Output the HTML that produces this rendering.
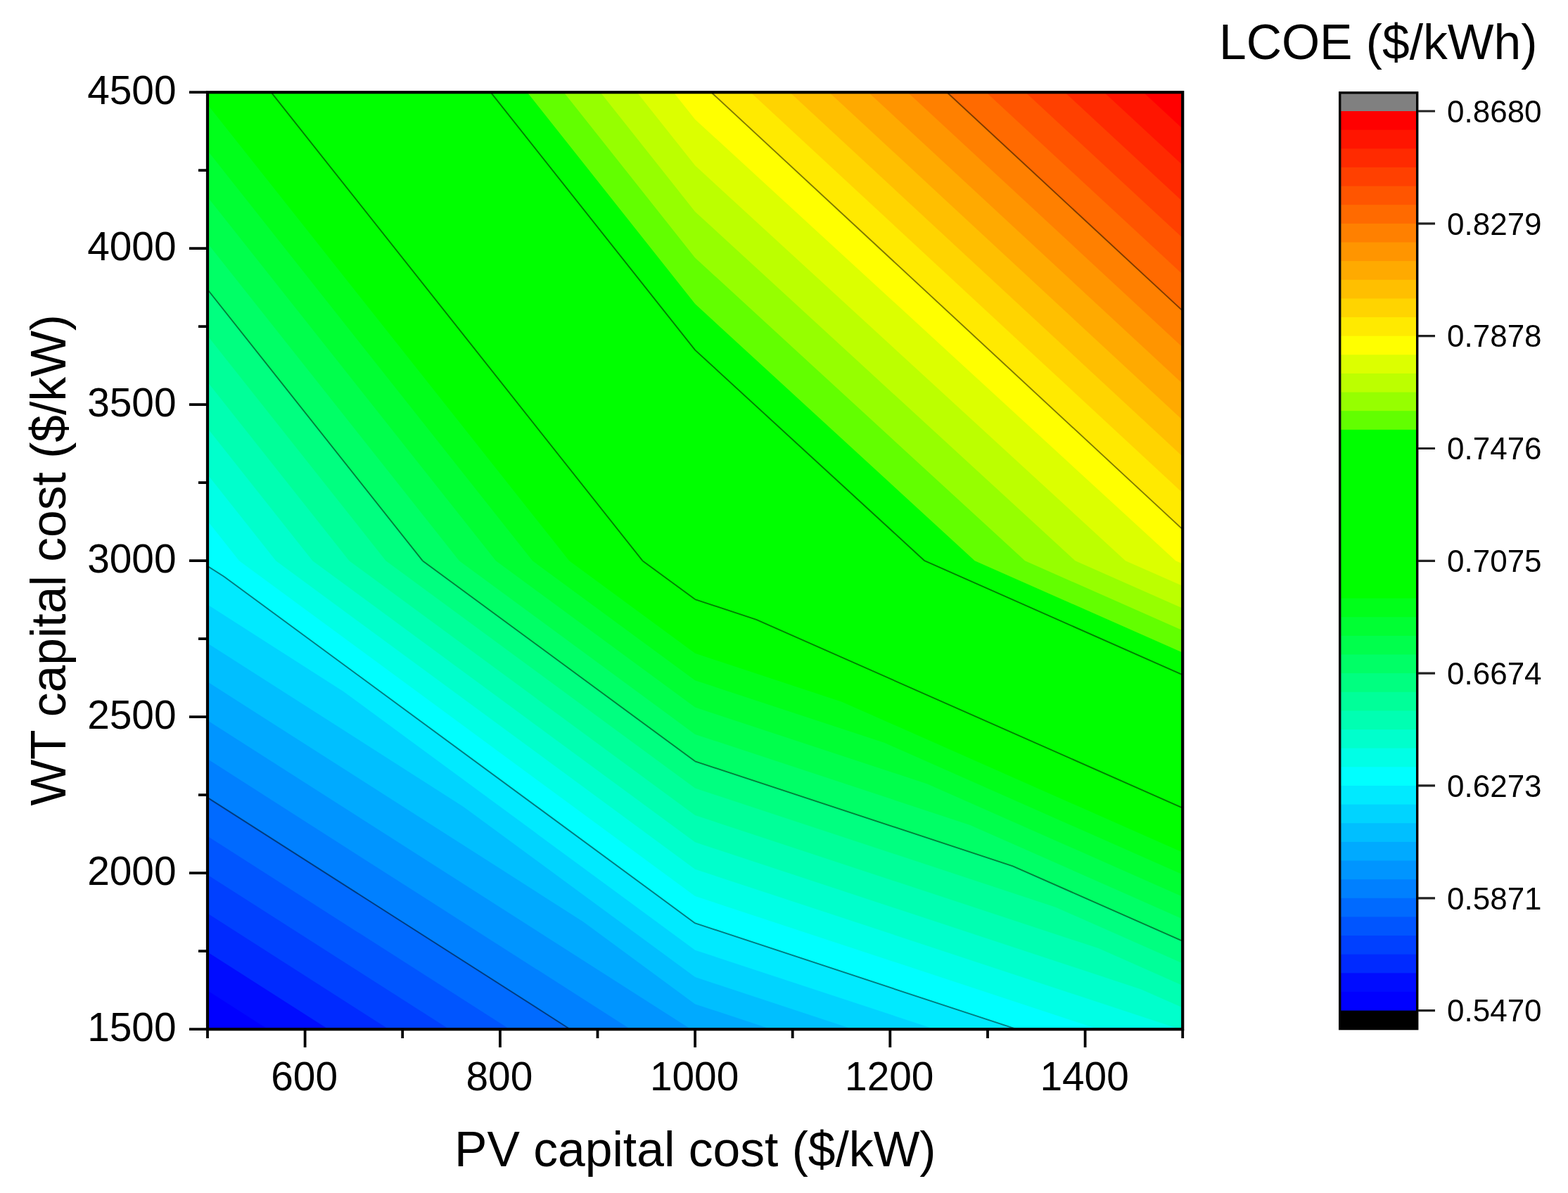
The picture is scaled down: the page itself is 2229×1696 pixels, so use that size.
<!DOCTYPE html>
<html><head><meta charset="utf-8"><style>
html,body{margin:0;padding:0;background:#fff;overflow:hidden;width:2229px;height:1696px;}
svg{display:block;}
text{font-family:"Liberation Sans",Arial,sans-serif;fill:#000;}
</style></head><body>
<svg width="2229" height="1696" viewBox="0 0 2229 1696">
<rect width="2229" height="1696" fill="#fff"/>
<g shape-rendering="auto">
<rect x="295" y="131.2" width="1386.2" height="1332" fill="#0000ff"/>
<path d="M380.9 1463.2 988.1 1463.2 295 797.2 295 1408.3ZM988.1 1463.2 988.1 797.2 295 797.2ZM988.1 1463.2 1681.2 1463.2 988.1 797.2ZM1681.2 1463.2 1681.2 797.2 988.1 797.2ZM295 797.2 988.1 797.2 295 131.2ZM988.1 797.2 988.1 131.2 295 131.2ZM988.1 797.2 1681.2 797.2 988.1 131.2ZM1681.2 797.2 1681.2 131.2 988.1 131.2Z" fill="#000cff"/>
<path d="M466.8 1463.2 988.1 1463.2 295 797.2 295 1353.4ZM988.1 1463.2 988.1 797.2 295 797.2ZM988.1 1463.2 1681.2 1463.2 988.1 797.2ZM1681.2 1463.2 1681.2 797.2 988.1 797.2ZM295 797.2 988.1 797.2 295 131.2ZM988.1 797.2 988.1 131.2 295 131.2ZM988.1 797.2 1681.2 797.2 988.1 131.2ZM1681.2 797.2 1681.2 131.2 988.1 131.2Z" fill="#002aff"/>
<path d="M552.7 1463.2 988.1 1463.2 295 797.2 295 1298.6ZM988.1 1463.2 988.1 797.2 295 797.2ZM988.1 1463.2 1681.2 1463.2 988.1 797.2ZM1681.2 1463.2 1681.2 797.2 988.1 797.2ZM295 797.2 988.1 797.2 295 131.2ZM988.1 797.2 988.1 131.2 295 131.2ZM988.1 797.2 1681.2 797.2 988.1 131.2ZM1681.2 797.2 1681.2 131.2 988.1 131.2Z" fill="#0040ff"/>
<path d="M638.7 1463.2 988.1 1463.2 295 797.2 295 1243.7ZM988.1 1463.2 988.1 797.2 295 797.2ZM988.1 1463.2 1681.2 1463.2 988.1 797.2ZM1681.2 1463.2 1681.2 797.2 988.1 797.2ZM295 797.2 988.1 797.2 295 131.2ZM988.1 797.2 988.1 131.2 295 131.2ZM988.1 797.2 1681.2 797.2 988.1 131.2ZM1681.2 797.2 1681.2 131.2 988.1 131.2Z" fill="#0055ff"/>
<path d="M724.6 1463.2 988.1 1463.2 295 797.2 295 1188.8ZM988.1 1463.2 988.1 797.2 295 797.2ZM988.1 1463.2 1681.2 1463.2 988.1 797.2ZM1681.2 1463.2 1681.2 797.2 988.1 797.2ZM295 797.2 988.1 797.2 295 131.2ZM988.1 797.2 988.1 131.2 295 131.2ZM988.1 797.2 1681.2 797.2 988.1 131.2ZM1681.2 797.2 1681.2 131.2 988.1 131.2Z" fill="#006aff"/>
<path d="M810.5 1463.2 988.1 1463.2 295 797.2 295 1133.9ZM988.1 1463.2 988.1 797.2 295 797.2ZM988.1 1463.2 1681.2 1463.2 988.1 797.2ZM1681.2 1463.2 1681.2 797.2 988.1 797.2ZM295 797.2 988.1 797.2 295 131.2ZM988.1 797.2 988.1 131.2 295 131.2ZM988.1 797.2 1681.2 797.2 988.1 131.2ZM1681.2 797.2 1681.2 131.2 988.1 131.2Z" fill="#0080ff"/>
<path d="M896.4 1463.2 988.1 1463.2 295 797.2 295 1079.1ZM988.1 1463.2 988.1 797.2 295 797.2ZM988.1 1463.2 1681.2 1463.2 988.1 797.2ZM1681.2 1463.2 1681.2 797.2 988.1 797.2ZM295 797.2 988.1 797.2 295 131.2ZM988.1 797.2 988.1 131.2 295 131.2ZM988.1 797.2 1681.2 797.2 988.1 131.2ZM1681.2 797.2 1681.2 131.2 988.1 131.2Z" fill="#0095ff"/>
<path d="M982.3 1463.2 988.1 1463.2 295 797.2 295 1024.2ZM988.1 1463.2 988.1 797.2 295 797.2ZM988.1 1463.2 1681.2 1463.2 988.1 797.2ZM1681.2 1463.2 1681.2 797.2 988.1 797.2ZM295 797.2 988.1 797.2 295 131.2ZM988.1 797.2 988.1 131.2 295 131.2ZM988.1 797.2 1681.2 797.2 988.1 131.2ZM1681.2 797.2 1681.2 131.2 988.1 131.2Z" fill="#00aaff"/>
<path d="M829.2 1310.5 295 797.2 295 969.3ZM988.1 1427.4 988.1 797.2 295 797.2 829.2 1310.5ZM1096.5 1463.2 1681.2 1463.2 988.1 797.2 988.1 1427.4ZM1681.2 1463.2 1681.2 797.2 988.1 797.2ZM295 797.2 988.1 797.2 295 131.2ZM988.1 797.2 988.1 131.2 295 131.2ZM988.1 797.2 1681.2 797.2 988.1 131.2ZM1681.2 797.2 1681.2 131.2 988.1 131.2Z" fill="#00bfff"/>
<path d="M658.9 1146.9 295 797.2 295 914.4ZM988.1 1389.1 988.1 797.2 295 797.2 658.9 1146.9ZM1212.8 1463.2 1681.2 1463.2 988.1 797.2 988.1 1389.1ZM1681.2 1463.2 1681.2 797.2 988.1 797.2ZM295 797.2 988.1 797.2 295 131.2ZM988.1 797.2 988.1 131.2 295 131.2ZM988.1 797.2 1681.2 797.2 988.1 131.2ZM1681.2 797.2 1681.2 131.2 988.1 131.2Z" fill="#00d4ff"/>
<path d="M488.5 983.2 295 797.2 295 859.5ZM988.1 1350.7 988.1 797.2 295 797.2 488.5 983.2ZM1329.1 1463.2 1681.2 1463.2 988.1 797.2 988.1 1350.7ZM1681.2 1463.2 1681.2 797.2 988.1 797.2ZM295 797.2 988.1 797.2 295 131.2ZM988.1 797.2 988.1 131.2 295 131.2ZM988.1 797.2 1681.2 797.2 988.1 131.2ZM1681.2 797.2 1681.2 131.2 988.1 131.2Z" fill="#00eaff"/>
<path d="M318.2 819.5 295 797.2 295 804.7ZM988.1 1312.4 988.1 797.2 295 797.2 318.2 819.5ZM1445.3 1463.2 1681.2 1463.2 988.1 797.2 988.1 1312.4ZM1681.2 1463.2 1681.2 797.2 988.1 797.2ZM295 797.2 988.1 797.2 295 131.2ZM988.1 797.2 988.1 131.2 295 131.2ZM988.1 797.2 1681.2 797.2 988.1 131.2ZM1681.2 797.2 1681.2 131.2 988.1 131.2Z" fill="#00ffff"/>
<path d="M988.1 1274 988.1 797.2 340 797.2ZM1561.6 1463.2 1681.2 1463.2 988.1 797.2 988.1 1274ZM1681.2 1463.2 1681.2 797.2 988.1 797.2ZM340 797.2 988.1 797.2 295 131.2 295 740.4ZM988.1 797.2 988.1 131.2 295 131.2ZM988.1 797.2 1681.2 797.2 988.1 131.2ZM1681.2 797.2 1681.2 131.2 988.1 131.2Z" fill="#00ffe6"/>
<path d="M988.1 1235.7 988.1 797.2 392.2 797.2ZM1677.8 1463.2 1681.2 1463.2 988.1 797.2 988.1 1235.7ZM1681.2 1463.2 1681.2 797.2 988.1 797.2ZM392.2 797.2 988.1 797.2 295 131.2 295 674.6ZM988.1 797.2 988.1 131.2 295 131.2ZM988.1 797.2 1681.2 797.2 988.1 131.2ZM1681.2 797.2 1681.2 131.2 988.1 131.2Z" fill="#00ffcc"/>
<path d="M988.1 1197.3 988.1 797.2 444.3 797.2ZM1622.2 1406.5 988.1 797.2 988.1 1197.3ZM1681.2 1432.6 1681.2 797.2 988.1 797.2 1622.2 1406.5ZM444.3 797.2 988.1 797.2 295 131.2 295 608.8ZM988.1 797.2 988.1 131.2 295 131.2ZM988.1 797.2 1681.2 797.2 988.1 131.2ZM1681.2 797.2 1681.2 131.2 988.1 131.2Z" fill="#00ffb2"/>
<path d="M988.1 1159 988.1 797.2 496.4 797.2ZM1561.4 1348.1 988.1 797.2 988.1 1159ZM1681.2 1401 1681.2 797.2 988.1 797.2 1561.4 1348.1ZM496.4 797.2 988.1 797.2 295 131.2 295 543ZM988.1 797.2 988.1 131.2 295 131.2ZM988.1 797.2 1681.2 797.2 988.1 131.2ZM1681.2 797.2 1681.2 131.2 988.1 131.2Z" fill="#00ff99"/>
<path d="M988.1 1120.6 988.1 797.2 548.5 797.2ZM1500.6 1289.7 988.1 797.2 988.1 1120.6ZM1681.2 1369.5 1681.2 797.2 988.1 797.2 1500.6 1289.7ZM548.5 797.2 988.1 797.2 295 131.2 295 477.3ZM988.1 797.2 988.1 131.2 295 131.2ZM988.1 797.2 1681.2 797.2 988.1 131.2ZM1681.2 797.2 1681.2 131.2 988.1 131.2Z" fill="#00ff80"/>
<path d="M988.1 1082.3 988.1 797.2 600.7 797.2ZM1439.8 1231.3 988.1 797.2 988.1 1082.3ZM1681.2 1337.9 1681.2 797.2 988.1 797.2 1439.8 1231.3ZM600.7 797.2 988.1 797.2 295 131.2 295 411.5ZM988.1 797.2 988.1 131.2 295 131.2ZM988.1 797.2 1681.2 797.2 988.1 131.2ZM1681.2 797.2 1681.2 131.2 988.1 131.2Z" fill="#00ff66"/>
<path d="M988.1 1043.9 988.1 797.2 652.8 797.2ZM1379.1 1172.9 988.1 797.2 988.1 1043.9ZM1681.2 1306.4 1681.2 797.2 988.1 797.2 1379.1 1172.9ZM652.8 797.2 988.1 797.2 295 131.2 295 345.7ZM988.1 797.2 988.1 131.2 295 131.2ZM988.1 797.2 1681.2 797.2 988.1 131.2ZM1681.2 797.2 1681.2 131.2 988.1 131.2Z" fill="#00ff4c"/>
<path d="M988.1 1005.6 988.1 797.2 704.9 797.2ZM1318.3 1114.5 988.1 797.2 988.1 1005.6ZM1681.2 1274.8 1681.2 797.2 988.1 797.2 1318.3 1114.5ZM704.9 797.2 988.1 797.2 295 131.2 295 279.9ZM988.1 797.2 988.1 131.2 295 131.2ZM988.1 797.2 1681.2 797.2 988.1 131.2ZM1681.2 797.2 1681.2 131.2 988.1 131.2Z" fill="#00ff33"/>
<path d="M988.1 967.2 988.1 797.2 757 797.2ZM1257.5 1056.1 988.1 797.2 988.1 967.2ZM1681.2 1243.3 1681.2 797.2 988.1 797.2 1257.5 1056.1ZM757 797.2 988.1 797.2 295 131.2 295 214.1ZM988.1 797.2 988.1 131.2 295 131.2ZM988.1 797.2 1681.2 797.2 988.1 131.2ZM1681.2 797.2 1681.2 131.2 988.1 131.2Z" fill="#00ff1a"/>
<path d="M988.1 928.8 988.1 797.2 809.2 797.2ZM1196.7 997.7 988.1 797.2 988.1 928.8ZM1681.2 1211.7 1681.2 797.2 988.1 797.2 1196.7 997.7ZM809.2 797.2 988.1 797.2 295 131.2 295 148.4ZM988.1 797.2 988.1 131.2 295 131.2ZM988.1 797.2 1681.2 797.2 988.1 131.2ZM1681.2 797.2 1681.2 131.2 988.1 131.2Z" fill="#00ff00"/>
<path d="M988.1 890.5 988.1 797.2 861.3 797.2ZM1135.9 939.3 988.1 797.2 988.1 890.5ZM1681.2 1180.2 1681.2 797.2 988.1 797.2 1135.9 939.3ZM861.3 797.2 988.1 797.2 456.5 286.4ZM988.1 797.2 988.1 131.2 333.4 131.2 456.5 286.4ZM988.1 797.2 1681.2 797.2 988.1 131.2ZM1681.2 797.2 1681.2 131.2 988.1 131.2Z" fill="#00ff00"/>
<path d="M988.1 852.1 988.1 797.2 913.4 797.2ZM1075.2 880.9 988.1 797.2 988.1 852.1ZM1681.2 1148.6 1681.2 797.2 988.1 797.2 1075.2 880.9ZM913.4 797.2 988.1 797.2 675 496.4ZM988.1 797.2 988.1 131.2 385.4 131.2 675 496.4ZM988.1 797.2 1681.2 797.2 988.1 131.2ZM1681.2 797.2 1681.2 131.2 988.1 131.2Z" fill="#00ff00"/>
<path d="M988.1 813.8 988.1 797.2 965.6 797.2ZM1014.4 822.5 988.1 797.2 988.1 813.8ZM1681.2 1117.1 1681.2 797.2 988.1 797.2 1014.4 822.5ZM965.6 797.2 988.1 797.2 893.6 706.4ZM988.1 797.2 988.1 131.2 437.5 131.2 893.6 706.4ZM988.1 797.2 1681.2 797.2 988.1 131.2ZM1681.2 797.2 1681.2 131.2 988.1 131.2Z" fill="#00ff00"/>
<path d="M1681.2 1085.5 1681.2 797.2 1028.6 797.2ZM988.1 760 988.1 131.2 489.5 131.2ZM1028.6 797.2 1681.2 797.2 988.1 131.2 988.1 760ZM1681.2 797.2 1681.2 131.2 988.1 131.2Z" fill="#00ff00"/>
<path d="M1681.2 1054 1681.2 797.2 1100 797.2ZM988.1 694.4 988.1 131.2 541.5 131.2ZM1100 797.2 1681.2 797.2 988.1 131.2 988.1 694.4ZM1681.2 797.2 1681.2 131.2 988.1 131.2Z" fill="#00ff00"/>
<path d="M1681.2 1022.4 1681.2 797.2 1171.4 797.2ZM988.1 628.8 988.1 131.2 593.5 131.2ZM1171.4 797.2 1681.2 797.2 988.1 131.2 988.1 628.8ZM1681.2 797.2 1681.2 131.2 988.1 131.2Z" fill="#00ff00"/>
<path d="M1681.2 990.9 1681.2 797.2 1242.9 797.2ZM988.1 563.2 988.1 131.2 645.5 131.2ZM1242.9 797.2 1681.2 797.2 988.1 131.2 988.1 563.2ZM1681.2 797.2 1681.2 131.2 988.1 131.2Z" fill="#00ff00"/>
<path d="M1681.2 959.3 1681.2 797.2 1314.3 797.2ZM988.1 497.6 988.1 131.2 697.5 131.2ZM1314.3 797.2 1681.2 797.2 988.1 131.2 988.1 497.6ZM1681.2 797.2 1681.2 131.2 988.1 131.2Z" fill="#00ff00"/>
<path d="M1681.2 927.8 1681.2 797.2 1385.7 797.2ZM988.1 432.1 988.1 131.2 749.5 131.2ZM1385.7 797.2 1681.2 797.2 988.1 131.2 988.1 432.1ZM1681.2 797.2 1681.2 131.2 988.1 131.2Z" fill="#62ff00"/>
<path d="M1681.2 896.2 1681.2 797.2 1457.1 797.2ZM988.1 366.5 988.1 131.2 801.5 131.2ZM1457.1 797.2 1681.2 797.2 988.1 131.2 988.1 366.5ZM1681.2 797.2 1681.2 131.2 988.1 131.2Z" fill="#96ff00"/>
<path d="M1681.2 864.7 1681.2 797.2 1528.5 797.2ZM988.1 300.9 988.1 131.2 853.5 131.2ZM1528.5 797.2 1681.2 797.2 988.1 131.2 988.1 300.9ZM1681.2 797.2 1681.2 131.2 988.1 131.2Z" fill="#bcff00"/>
<path d="M1681.2 833.1 1681.2 797.2 1599.9 797.2ZM988.1 235.3 988.1 131.2 905.5 131.2ZM1599.9 797.2 1681.2 797.2 988.1 131.2 988.1 235.3ZM1681.2 797.2 1681.2 131.2 988.1 131.2Z" fill="#dcff00"/>
<path d="M1681.2 801.6 1681.2 797.2 1671.3 797.2ZM988.1 169.7 988.1 131.2 957.5 131.2ZM1671.3 797.2 1681.2 797.2 988.1 131.2 988.1 169.7ZM1681.2 797.2 1681.2 131.2 988.1 131.2Z" fill="#ffff00"/>
<path d="M1681.2 752.6 1681.2 131.2 1011.1 131.2Z" fill="#ffea00"/>
<path d="M1681.2 700.8 1681.2 131.2 1067 131.2Z" fill="#ffd400"/>
<path d="M1681.2 649 1681.2 131.2 1122.8 131.2Z" fill="#ffbf00"/>
<path d="M1681.2 597.2 1681.2 131.2 1178.7 131.2Z" fill="#ffaa00"/>
<path d="M1681.2 545.5 1681.2 131.2 1234.5 131.2Z" fill="#ff9500"/>
<path d="M1681.2 493.7 1681.2 131.2 1290.3 131.2Z" fill="#ff8000"/>
<path d="M1681.2 441.9 1681.2 131.2 1346.2 131.2Z" fill="#ff6a00"/>
<path d="M1681.2 390.1 1681.2 131.2 1402 131.2Z" fill="#ff5500"/>
<path d="M1681.2 338.3 1681.2 131.2 1457.8 131.2Z" fill="#ff4000"/>
<path d="M1681.2 286.5 1681.2 131.2 1513.7 131.2Z" fill="#ff2a00"/>
<path d="M1681.2 234.8 1681.2 131.2 1569.5 131.2Z" fill="#ff1500"/>
<path d="M1681.2 183 1681.2 131.2 1625.4 131.2Z" fill="#ff0000"/>
</g>
<path d="M810.5 1463.2L295 1133.9M318.2 819.5L295 804.7M988.1 1312.4L318.2 819.5M1445.3 1463.2L988.1 1312.4M988.1 1082.3L600.7 797.2M1439.8 1231.3L988.1 1082.3M1681.2 1337.9L1439.8 1231.3M600.7 797.2L295 411.5M988.1 852.1L913.4 797.2M1075.2 880.9L988.1 852.1M1681.2 1148.6L1075.2 880.9M913.4 797.2L675 496.4M385.4 131.2L675 496.4M1681.2 959.3L1314.3 797.2M988.1 497.6L697.5 131.2M1314.3 797.2L988.1 497.6M1681.2 752.6L1011.1 131.2M1681.2 441.9L1346.2 131.2" fill="none" stroke="#000" stroke-opacity="0.5" stroke-width="1.9" stroke-linejoin="round"/>
<rect x="295" y="131.2" width="1386.2" height="1332" fill="none" stroke="#000" stroke-width="4.2"/>
<path d="M269 1463.2H295M282 1352.2H295M269 1241.2H295M282 1130.2H295M269 1019.2H295M282 908.2H295M269 797.2H295M282 686.2H295M269 575.2H295M282 464.2H295M269 353.2H295M282 242.2H295M269 131.2H295M295.0 1463V1476M433.6 1463V1489M572.2 1463V1476M710.9 1463V1489M849.5 1463V1476M988.1 1463V1489M1126.7 1463V1476M1265.3 1463V1489M1404.0 1463V1476M1542.6 1463V1489M1681.2 1463V1476" stroke="#000" stroke-width="3.8" fill="none"/>
<g font-size="56.8"><text x="250.5" y="1480.4" text-anchor="end">1500</text><text x="250.5" y="1258.4" text-anchor="end">2000</text><text x="250.5" y="1036.4" text-anchor="end">2500</text><text x="250.5" y="814.4" text-anchor="end">3000</text><text x="250.5" y="592.4" text-anchor="end">3500</text><text x="250.5" y="370.4" text-anchor="end">4000</text><text x="250.5" y="148.4" text-anchor="end">4500</text><text x="432.6" y="1549.6" text-anchor="middle">600</text><text x="709.9" y="1549.6" text-anchor="middle">800</text><text x="987.1" y="1549.6" text-anchor="middle">1000</text><text x="1264.3" y="1549.6" text-anchor="middle">1200</text><text x="1541.6" y="1549.6" text-anchor="middle">1400</text></g>
<text x="646" y="1658.3" font-size="69.6">PV capital cost ($/kW)</text>
<text transform="translate(92.6,1145.6) rotate(-90)" font-size="69.6">WT capital cost ($/kW)</text>
<text x="1733" y="84.1" font-size="69.6">LCOE ($/kWh)</text>
<rect x="1905" y="131.4" width="109.6" height="27.1" fill="#808080"/>
<rect x="1905" y="158.00" width="109.6" height="1278.60" fill="#ff0000"/>
<rect x="1905" y="184.64" width="109.6" height="1251.96" fill="#ff1500"/>
<rect x="1905" y="211.27" width="109.6" height="1225.33" fill="#ff2a00"/>
<rect x="1905" y="237.91" width="109.6" height="1198.69" fill="#ff4000"/>
<rect x="1905" y="264.55" width="109.6" height="1172.05" fill="#ff5500"/>
<rect x="1905" y="291.19" width="109.6" height="1145.41" fill="#ff6a00"/>
<rect x="1905" y="317.83" width="109.6" height="1118.77" fill="#ff8000"/>
<rect x="1905" y="344.46" width="109.6" height="1092.14" fill="#ff9500"/>
<rect x="1905" y="371.10" width="109.6" height="1065.50" fill="#ffaa00"/>
<rect x="1905" y="397.74" width="109.6" height="1038.86" fill="#ffbf00"/>
<rect x="1905" y="424.37" width="109.6" height="1012.23" fill="#ffd400"/>
<rect x="1905" y="451.01" width="109.6" height="985.59" fill="#ffea00"/>
<rect x="1905" y="477.65" width="109.6" height="958.95" fill="#ffff00"/>
<rect x="1905" y="504.29" width="109.6" height="932.31" fill="#dcff00"/>
<rect x="1905" y="530.92" width="109.6" height="905.67" fill="#bcff00"/>
<rect x="1905" y="557.56" width="109.6" height="879.04" fill="#96ff00"/>
<rect x="1905" y="584.20" width="109.6" height="852.40" fill="#62ff00"/>
<rect x="1905" y="610.84" width="109.6" height="825.76" fill="#00ff00"/>
<rect x="1905" y="637.47" width="109.6" height="799.12" fill="#00ff00"/>
<rect x="1905" y="664.11" width="109.6" height="772.49" fill="#00ff00"/>
<rect x="1905" y="690.75" width="109.6" height="745.85" fill="#00ff00"/>
<rect x="1905" y="717.39" width="109.6" height="719.21" fill="#00ff00"/>
<rect x="1905" y="744.02" width="109.6" height="692.57" fill="#00ff00"/>
<rect x="1905" y="770.66" width="109.6" height="665.94" fill="#00ff00"/>
<rect x="1905" y="797.30" width="109.6" height="639.30" fill="#00ff00"/>
<rect x="1905" y="823.94" width="109.6" height="612.66" fill="#00ff00"/>
<rect x="1905" y="850.57" width="109.6" height="586.02" fill="#00ff1a"/>
<rect x="1905" y="877.21" width="109.6" height="559.39" fill="#00ff33"/>
<rect x="1905" y="903.85" width="109.6" height="532.75" fill="#00ff4c"/>
<rect x="1905" y="930.49" width="109.6" height="506.11" fill="#00ff66"/>
<rect x="1905" y="957.12" width="109.6" height="479.47" fill="#00ff80"/>
<rect x="1905" y="983.76" width="109.6" height="452.84" fill="#00ff99"/>
<rect x="1905" y="1010.40" width="109.6" height="426.20" fill="#00ffb2"/>
<rect x="1905" y="1037.04" width="109.6" height="399.56" fill="#00ffcc"/>
<rect x="1905" y="1063.67" width="109.6" height="372.92" fill="#00ffe6"/>
<rect x="1905" y="1090.31" width="109.6" height="346.29" fill="#00ffff"/>
<rect x="1905" y="1116.95" width="109.6" height="319.65" fill="#00eaff"/>
<rect x="1905" y="1143.59" width="109.6" height="293.01" fill="#00d4ff"/>
<rect x="1905" y="1170.22" width="109.6" height="266.38" fill="#00bfff"/>
<rect x="1905" y="1196.86" width="109.6" height="239.74" fill="#00aaff"/>
<rect x="1905" y="1223.50" width="109.6" height="213.10" fill="#0095ff"/>
<rect x="1905" y="1250.14" width="109.6" height="186.46" fill="#0080ff"/>
<rect x="1905" y="1276.77" width="109.6" height="159.83" fill="#006aff"/>
<rect x="1905" y="1303.41" width="109.6" height="133.19" fill="#0055ff"/>
<rect x="1905" y="1330.05" width="109.6" height="106.55" fill="#0040ff"/>
<rect x="1905" y="1356.69" width="109.6" height="79.91" fill="#002aff"/>
<rect x="1905" y="1383.32" width="109.6" height="53.28" fill="#000cff"/>
<rect x="1905" y="1409.96" width="109.6" height="26.64" fill="#0000ff"/>
<rect x="1905" y="1436.6" width="109.6" height="26.6" fill="#000"/>
<rect x="1904.7" y="131.8" width="110" height="1330.8" fill="none" stroke="#000" stroke-width="3.4"/>
<path d="M2016 1436.6H2040M2016 1276.8H2040M2016 1116.9H2040M2016 957.1H2040M2016 797.3H2040M2016 637.5H2040M2016 477.6H2040M2016 317.8H2040M2016 158.0H2040" stroke="#222" stroke-width="3.2" fill="none"/>
<g font-size="44"><text x="2057" y="1452.3">0.5470</text><text x="2057" y="1292.5">0.5871</text><text x="2057" y="1132.6">0.6273</text><text x="2057" y="972.8">0.6674</text><text x="2057" y="813.0">0.7075</text><text x="2057" y="653.2">0.7476</text><text x="2057" y="493.3">0.7878</text><text x="2057" y="333.5">0.8279</text><text x="2057" y="173.7">0.8680</text></g>
</svg>
</body></html>
